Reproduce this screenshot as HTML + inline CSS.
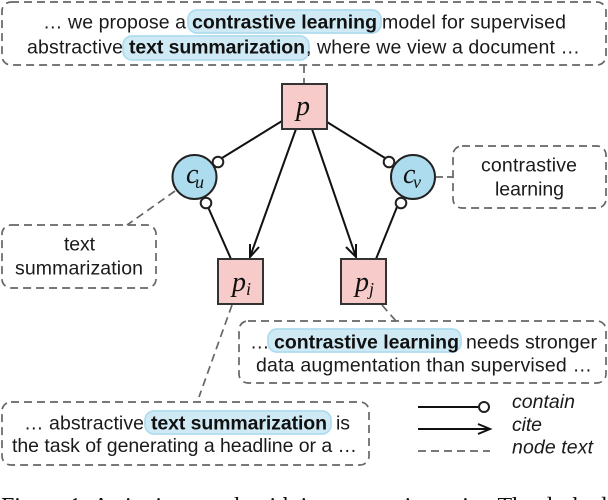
<!DOCTYPE html>
<html><head><meta charset="utf-8"><style>
html,body{margin:0;padding:0;background:#fff;width:608px;height:500px;overflow:hidden}
svg{display:block}
text{font-family:"Liberation Sans",sans-serif;font-size:19.5px;fill:#1a1a1a}
.b{font-weight:bold;fill:#111}
.i{font-style:italic}
.m{font-family:"Liberation Serif",serif;font-style:italic;font-size:28px;fill:#111}
.s{font-family:"Liberation Serif",serif;font-style:italic;font-size:18px;fill:#111}
.box{fill:none;stroke:#666;stroke-width:1.7;stroke-dasharray:8 5}
.dl{stroke:#666;stroke-width:1.7;stroke-dasharray:8 5;fill:none}
.l{stroke:#111;stroke-width:2;fill:none}
.hl{fill:#d0eaf5;stroke:#aedcef;stroke-width:1.7}
.c{fill:#fff;stroke:#222;stroke-width:2}
.n{fill:#f6cbc9;stroke:#333;stroke-width:2}
.t{fill:#aedcef;stroke:#222;stroke-width:2}
</style></head><body>
<svg width="608" height="500" viewBox="0 0 608 500" xmlns="http://www.w3.org/2000/svg">
<rect class="box" x="2" y="2" width="604" height="63" rx="9"/>
<rect class="hl" x="188" y="10" width="193" height="23" rx="9"/>
<rect class="hl" x="123" y="36" width="186" height="24" rx="9"/>
<text x="43" y="28.700" textLength="143">… we propose a</text>
<text class="b" x="192" y="28.700" textLength="185">contrastive learning</text>
<text x="382" y="28.700" textLength="184">model for supervised</text>
<text x="27" y="53.700" textLength="96">abstractive</text>
<text class="b" x="129" y="53.700" textLength="176">text summarization</text>
<text x="306" y="53.700" textLength="274">, where we view a document …</text>

<line class="dl" x1="304" y1="65" x2="304" y2="84"/>
<line class="dl" x1="175" y1="191" x2="127" y2="225"/>
<line class="dl" x1="436" y1="177" x2="453" y2="177" style="stroke-dasharray:7 4"/>
<line class="dl" x1="232" y1="305" x2="199" y2="397"/>
<line class="dl" x1="382" y1="305" x2="396" y2="321"/>

<line class="l" x1="282" y1="121" x2="222" y2="158"/>
<line class="l" x1="327" y1="122" x2="385" y2="158"/>
<line class="l" x1="208" y1="207" x2="231" y2="259"/>
<line class="l" x1="397" y1="207" x2="376" y2="259"/>
<line class="l" x1="296" y1="129" x2="250" y2="257"/>
<path class="l" d="M250 244 L250 257 L259 247"/>
<line class="l" x1="312" y1="129" x2="356" y2="257"/>
<path class="l" d="M346 247 L356 257 L356 244"/>

<rect class="n" x="282" y="84" width="45" height="45"/>
<rect class="n" x="218" y="259" width="45" height="45"/>
<rect class="n" x="341" y="259" width="45" height="45"/>
<circle class="t" cx="194.500" cy="177" r="22"/>
<circle class="t" cx="413" cy="177" r="22"/>
<circle class="c" cx="218" cy="162" r="5.300"/>
<circle class="c" cx="206" cy="203" r="5.300"/>
<circle class="c" cx="389" cy="162" r="5.300"/>
<circle class="c" cx="401" cy="203" r="5.300"/>

<text class="m" x="296" y="115">p</text>
<text class="m" x="232" y="291">p</text><text class="s" x="246" y="295">i</text>
<text class="m" x="355" y="291">p</text><text class="s" x="369" y="295">j</text>
<text class="m" x="186" y="183">c</text><text class="s" x="195" y="188">u</text>
<text class="m" x="403" y="183">c</text><text class="s" x="413" y="188">v</text>

<rect class="box" x="453" y="146" width="153" height="62" rx="9"/>
<text x="481" y="171.700" textLength="96">contrastive</text>
<text x="495" y="195.700" textLength="69">learning</text>

<rect class="box" x="2" y="225" width="154" height="63" rx="9"/>
<text x="64" y="250.700" textLength="31">text</text>
<text x="15" y="274.700" textLength="128">summarization</text>

<rect class="box" x="239" y="321" width="367" height="62" rx="9"/>
<rect class="hl" x="268" y="329" width="193" height="23" rx="9"/>
<text x="250" y="348.700" textLength="16">…</text>
<text class="b" x="274" y="348.700" textLength="185">contrastive learning</text>
<text x="466" y="348.700" textLength="131">needs stronger</text>
<text x="256" y="371.700" textLength="336">data augmentation than supervised …</text>

<rect class="box" x="2" y="402" width="367" height="63" rx="9"/>
<rect class="hl" x="145" y="411" width="186" height="23" rx="9"/>
<text x="24" y="429.700" textLength="120">… abstractive</text>
<text class="b" x="151" y="429.700" textLength="176">text summarization</text>
<text x="336" y="429.700" textLength="14">is</text>
<text x="12" y="452" textLength="345">the task of generating a headline or a …</text>

<line class="l" x1="418" y1="407" x2="480" y2="407"/>
<circle class="c" cx="484" cy="407" r="5"/>
<line class="l" x1="418" y1="429" x2="490" y2="429"/>
<path class="l" d="M478 424 L490 429 L478 434"/>
<line class="dl" x1="418" y1="451" x2="490" y2="451"/>
<text class="i" x="512" y="408" textLength="63">contain</text>
<text class="i" x="512" y="431" textLength="30">cite</text>
<text class="i" x="512" y="453.700" textLength="81">node text</text>

<text x="1" y="514" style="font-family:'Liberation Serif',serif;font-size:24px;fill:#111" textLength="606">Figure 1: A citation graph with its contrastive pairs. The dashed</text>
</svg>
</body></html>
